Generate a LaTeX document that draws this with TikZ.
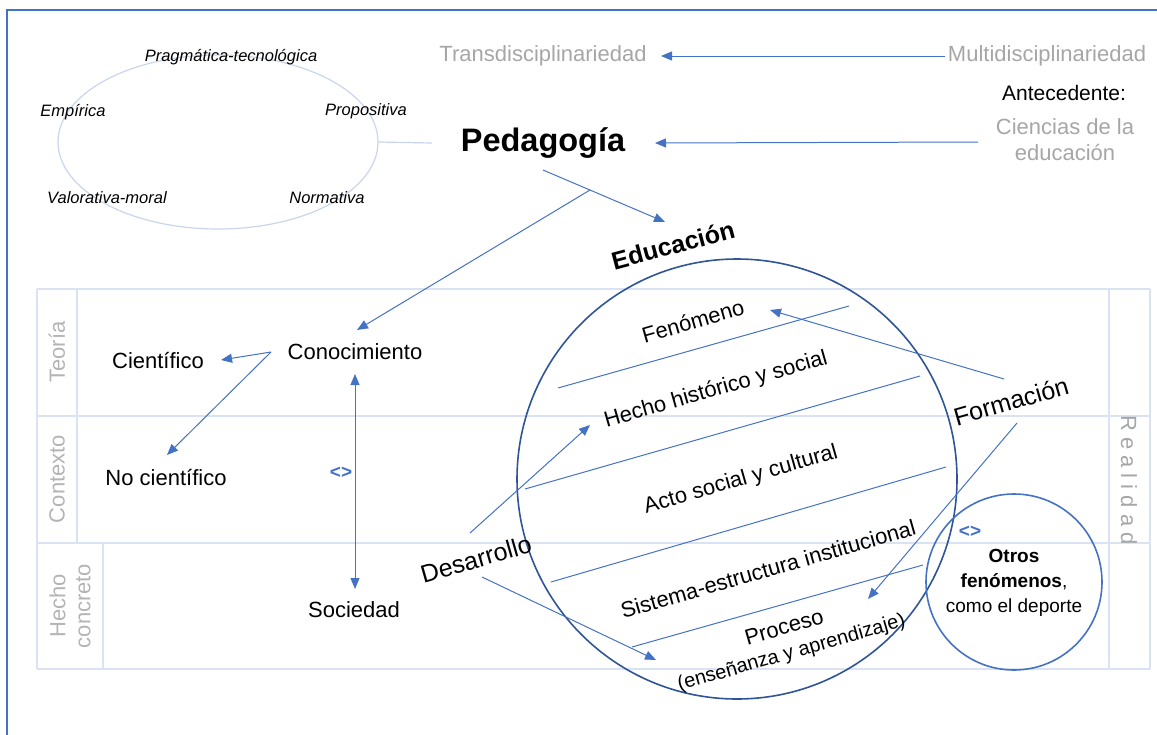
\documentclass[tikz,border=0pt]{standalone}
\usepackage{fontspec}
\setmainfont{Liberation Sans}
\usetikzlibrary{arrows.meta,shapes.geometric}
\definecolor{frameblue}{HTML}{4472C4}
\definecolor{darkblue}{HTML}{2F5597}
\definecolor{bandblue}{HTML}{DAE3F3}
\definecolor{ellblue}{HTML}{C9D5EC}
\definecolor{lgray}{HTML}{A6A6A6}
\definecolor{cgray}{HTML}{B4B4B4}
\begin{document}
\begin{tikzpicture}[x=1pt,y=-1pt,
  base/.style={inner sep=0pt, align=center, text=black},
  t22/.style={base, font=\fontsize{22}{26}\selectfont},
  t21/.style={base, font=\fontsize{21}{25}\selectfont},
  big/.style={base, font=\fontsize{25}{30}\selectfont},
  gtxt/.style={t22, text=lgray},
  ital/.style={base, font=\fontsize{16.5}{20}\selectfont\itshape},
  collab/.style={t22, text=cgray},
  ineq/.style={base, text=frameblue, font=\fontsize{19}{22}\selectfont\bfseries},
  arr/.style={draw=frameblue, line width=1pt, -{Triangle[length=11pt,width=9pt]}},
  darr/.style={draw=frameblue, line width=1pt, {Triangle[length=11pt,width=9pt]}-{Triangle[length=11pt,width=9pt]}},
  sep/.style={draw=frameblue, line width=1pt},
  band/.style={draw=bandblue, line width=1.5pt}
]
\useasboundingbox (0,0) rectangle (1157,734);
% frame
\draw[frameblue, line width=2pt] (7,740) -- (7,10) -- (1162,10);
% table
\draw[band] (37,289) -- (1150,289);
\draw[band] (37,416) -- (1150,416);
\draw[band] (37,543) -- (1150,543);
\draw[band] (37,669) -- (1150,669);
\draw[band] (37,289) -- (37,669);
\draw[band] (77,289) -- (77,543);
\draw[band] (103,543) -- (103,669);
\draw[band] (1109,289) -- (1109,669);
\draw[band] (1150,289) -- (1150,669);
\node[collab, rotate=90] (teo) at (57,352) {Teoría};
\node[collab, rotate=90] (ctx) at (57,479) {Contexto};
\node[collab, rotate=90, font=\fontsize{22}{25}\selectfont] (hcon) at (70,606) {Hecho\\concreto};
\node[collab, rotate=-90, text=lgray] (real) at (1129,480) {R e a l i d a d};
% ellipse
\node[draw=ellblue, line width=1.2pt, ellipse, minimum width=320pt, minimum height=174pt, inner sep=0pt] (ell) at (218,142) {};
\node[ital] (prag) at (231,57) {Pragmática-tecnológica};
\node[ital] (emp) at (73,112) {Empírica};
\node[ital] (prop) at (366,111) {Propositiva};
\node[ital] (val) at (107,198) {Valorativa-moral};
\node[ital] (norm) at (327,198) {Normativa};
% top texts
\node[gtxt] (trans) at (543,56) {Transdisciplinariedad};
\node[gtxt] (multi) at (1047,56) {Multidisciplinariedad};
\node[t21] (ante) at (1064,93) {Antecedente:};
\node[gtxt] (cien) at (1065,140) {Ciencias de la\\educación};
\node[base, font=\fontsize{32.5}{38}\selectfont\bfseries] (ped) at (543,143) {Pedagogía};
\draw[draw=ellblue, line width=1.2pt] (ell.east) -- ([shift={(-111,0)}]ped.center);
\draw[arr] ([shift={(-102,0)}]multi.center) -- ([shift={(118,0)}]trans.center);
\draw[arr] ([shift={(-87,2)}]cien.center) -- ([shift={(112,0)}]ped.center);
% education
\node[base, font=\fontsize{25}{30}\selectfont\bfseries, rotate=15] (edu) at (673,245) {Educación};
\node[draw=darkblue, line width=1.6pt, circle, minimum size=440pt, inner sep=0pt] (edc) at (737,479) {};
\node[draw=frameblue, line width=1.6pt, circle, minimum size=176pt, inner sep=0pt] (otc) at (1014,582) {};
\node[base, font=\fontsize{19}{25}\selectfont] (otr) at (1014,583) {\textbf{Otros}\\\textbf{fenómenos},\\como el deporte};
% left side
\node[t22] (conoc) at (355,352) {Conocimiento};
\node[t22] (cient) at (158,361) {Científico};
\node[t22] (nocient) at (166,478) {No científico};
\node[t22] (soc) at (354,610) {Sociedad};
\node[ineq] (ineqA) at (341,473) {<>};
\node[ineq] (ineqB) at (970,532) {<>};
% circle contents
\node[t22, rotate=16] (fen) at (693,321) {Fenómeno};
\node[t22, rotate=16] (hecho) at (716,390) {Hecho histórico y social};
\node[t22, rotate=16] (acto) at (741,480) {Acto social y cultural};
\node[t22, rotate=16] (sist) at (768,569) {Sistema-estructura institucional};
\node[base, rotate=16, font=\fontsize{20}{25}\selectfont] (proc) at (788,641) {{\fontsize{22}{25}\selectfont Proceso}\\(enseñanza y aprendizaje)};
\node[big, rotate=16] (form) at (1011,401) {Formación};
\node[big, rotate=16] (desa) at (476,559) {Desarrollo};
\draw[sep] (558,388) -- (849,306);
\draw[sep] (525,489) -- (920,376);
\draw[sep] (551,582) -- (946,467);
\draw[sep] (632,647) -- (923,565);
% connectors
\draw[arr] ([shift={(0,27)}]ped.center) -- coordinate[pos=0.385] (br) ([shift={(-8,-23)}]edu.center);
\draw[arr] (br) -- ([shift={(2,-22)}]conoc.center);
\draw[arr] ([shift={(-84,0)}]conoc.center) -- ([shift={(63,-1)}]cient.center);
\draw[arr] ([shift={(-84,0)}]conoc.center) -- ([shift={(1,-23)}]nocient.center);
\draw[darr] ([shift={(0,22)}]conoc.center) -- ([shift={(1,-21)}]soc.center);
\draw[arr] ([shift={(-7,-22)}]form.center) -- ([shift={(77,-11)}]fen.center);
\draw[arr] ([shift={(6,22)}]form.center) -- ([shift={(80,-42)}]proc.center);
\draw[arr] ([shift={(-6,-26)}]desa.center) -- ([shift={(-126,35)}]hecho.center);
\draw[arr] ([shift={(6,18)}]desa.center) -- ([shift={(-132,19)}]proc.center);
\end{tikzpicture}
\end{document}
